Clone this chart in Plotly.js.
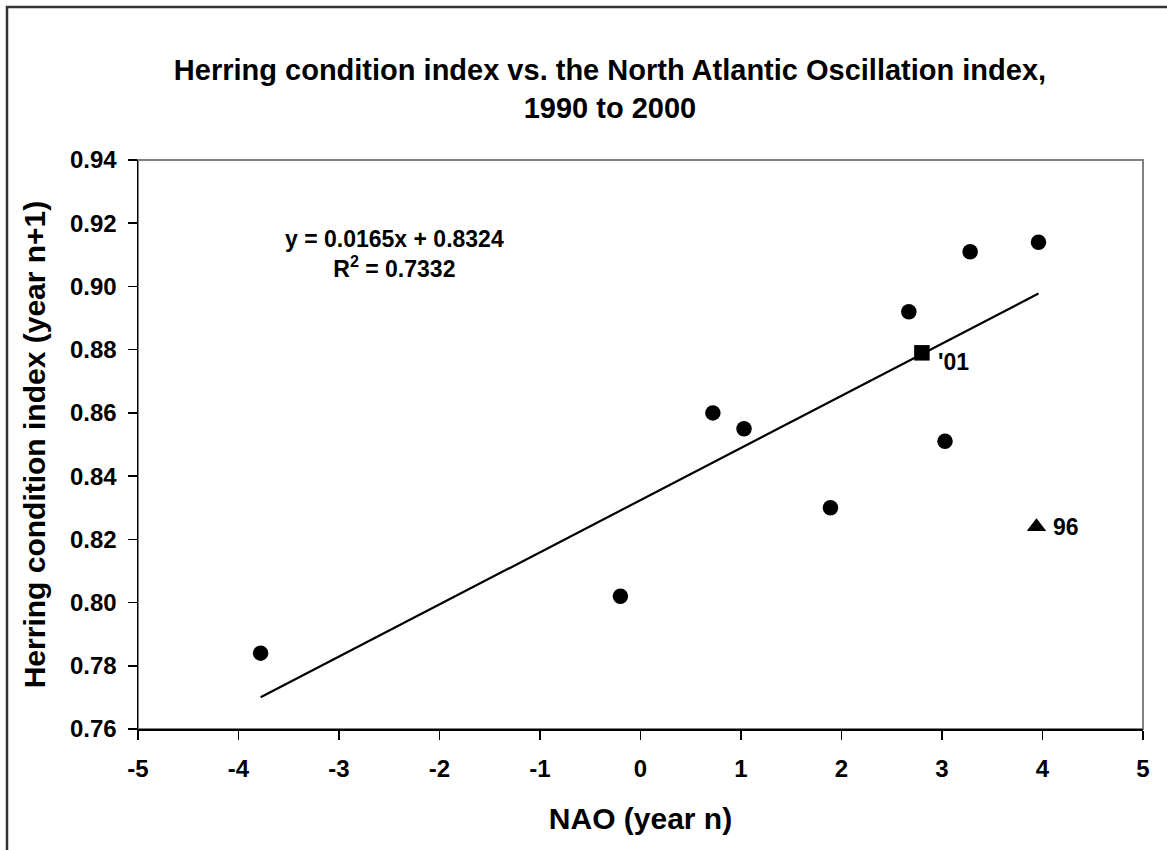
<!DOCTYPE html>
<html>
<head>
<meta charset="utf-8">
<script src="https://cdn.plot.ly/plotly-3.0.1.min.js"></script>
<style>
  html, body { margin: 0; padding: 0; background: #fff; }
  #chart { width: 1167px; height: 850px; }
</style>
</head>
<body>
<div id="chart"></div>
<script>
// ---- data ----
var circleX = [-3.78, -0.20, 0.72, 1.03, 1.89, 2.67, 3.03, 3.28, 3.96];
var circleY = [0.784, 0.802, 0.860, 0.855, 0.830, 0.892, 0.851, 0.911, 0.914];
var squareX = [2.80];
var squareY = [0.879];
var squareLabel = ["'01"];
var triangleX = [3.94];
var triangleY = [0.824];
var triangleLabel = ["96"];
var trendSlope = 0.0165;
var trendIntercept = 0.8324;
var equationText = ["y = 0.0165x + 0.8324", "R<sup>2</sup> = 0.7332"];
var xTickVals = [-5, -4, -3, -2, -1, 0, 1, 2, 3, 4, 5];
var xTickText = ["-5", "-4", "-3", "-2", "-1", "0", "1", "2", "3", "4", "5"];
var titleLines = ["Herring condition index vs. the North Atlantic Oscillation index,", "1990 to 2000"];
var xTitle = "NAO (year n)";
var yTitle = "Herring condition index (year n+1)";

// trendline spans the range of the fitted series
var tMin = Math.min.apply(null, circleX);
var tMax = Math.max.apply(null, circleX);
var trendX = [tMin, tMax];
var trendY = trendX.map(function (x) { return trendSlope * x + trendIntercept; });

var FONT = "Liberation Sans, Arial, Helvetica, sans-serif";

var traces = [
  {
    x: trendX, y: trendY, type: "scatter", mode: "lines",
    line: { color: "#000", width: 2.2 }, hoverinfo: "skip", showlegend: false
  },
  {
    x: circleX, y: circleY, type: "scatter", mode: "markers",
    marker: { symbol: "circle", size: 15.5, color: "#000" }, showlegend: false
  },
  {
    x: squareX, y: squareY, type: "scatter", mode: "markers",
    marker: { symbol: "square", size: 15.5, color: "#000" }, showlegend: false
  },
  {
    x: triangleX, y: triangleY, type: "scatter", mode: "markers",
    marker: { symbol: "triangle-up", size: 17, color: "#000" }, showlegend: false
  }
];

var axisCommon = {
  showgrid: false, zeroline: false,
  showline: true, linecolor: "#000", linewidth: 1.5,
  ticks: "outside", ticklen: 9, tickwidth: 1.5, tickcolor: "#000",
  tickfont: { family: FONT, size: 24, color: "#000", weight: "bold" }
};

var layout = {
  width: 1167, height: 850,
  margin: { l: 138, r: 24, t: 160, b: 121 },
  paper_bgcolor: "#fff", plot_bgcolor: "#fff",
  showlegend: false,
  title: {
    text: titleLines.join("<br>"),
    font: { family: FONT, size: 29, color: "#000", weight: "bold" },
    x: 610 / 1167, xanchor: "center", xref: "container",
    y: 1 - 80 / 850, yanchor: "top", yref: "container"
  },
  xaxis: Object.assign({}, axisCommon, {
    range: [-5, 5],
    tickmode: "array", tickvals: xTickVals, ticktext: xTickText,
    ticklabelstandoff: 9,
    title: { text: xTitle, font: { family: FONT, size: 30, color: "#000", weight: "bold" }, standoff: 26 }
  }),
  yaxis: Object.assign({}, axisCommon, {
    range: [0.76, 0.94], dtick: 0.02, tick0: 0.76, tickformat: ".2f",
    ticklabelstandoff: 6,
    title: { text: yTitle, font: { family: FONT, size: 30, color: "#000", weight: "bold" }, standoff: 15 }
  }),
  shapes: [
    { type: "rect", xref: "paper", yref: "paper", x0: 0, x1: 1, y0: 0, y1: 1,
      line: { color: "#808080", width: 2 }, layer: "below" },
    { type: "rect", xref: "paper", yref: "paper",
      x0: (7 - 138) / 1005, x1: 1.5, y0: -0.5, y1: (729 - 7) / 569,
      line: { color: "#333", width: 2.5 } }
  ],
  annotations: [
    { xref: "paper", yref: "paper", x: (394 - 138) / 1005, y: (729 - 254) / 569,
      text: equationText.join("<br>"), showarrow: false, xanchor: "center", yanchor: "middle",
      font: { family: FONT, size: 23, color: "#000", weight: "bold" } },
    { x: squareX[0], y: squareY[0], text: squareLabel[0], showarrow: false,
      xanchor: "left", yanchor: "middle", xshift: 14, yshift: -9,
      font: { family: FONT, size: 23, color: "#000", weight: "bold" } },
    { x: triangleX[0], y: triangleY[0], text: triangleLabel[0], showarrow: false,
      xanchor: "left", yanchor: "middle", xshift: 15, yshift: 0,
      font: { family: FONT, size: 23, color: "#000", weight: "bold" } }
  ]
};

Plotly.newPlot("chart", traces, layout, { displayModeBar: false, staticPlot: true });
</script>
</body>
</html>
